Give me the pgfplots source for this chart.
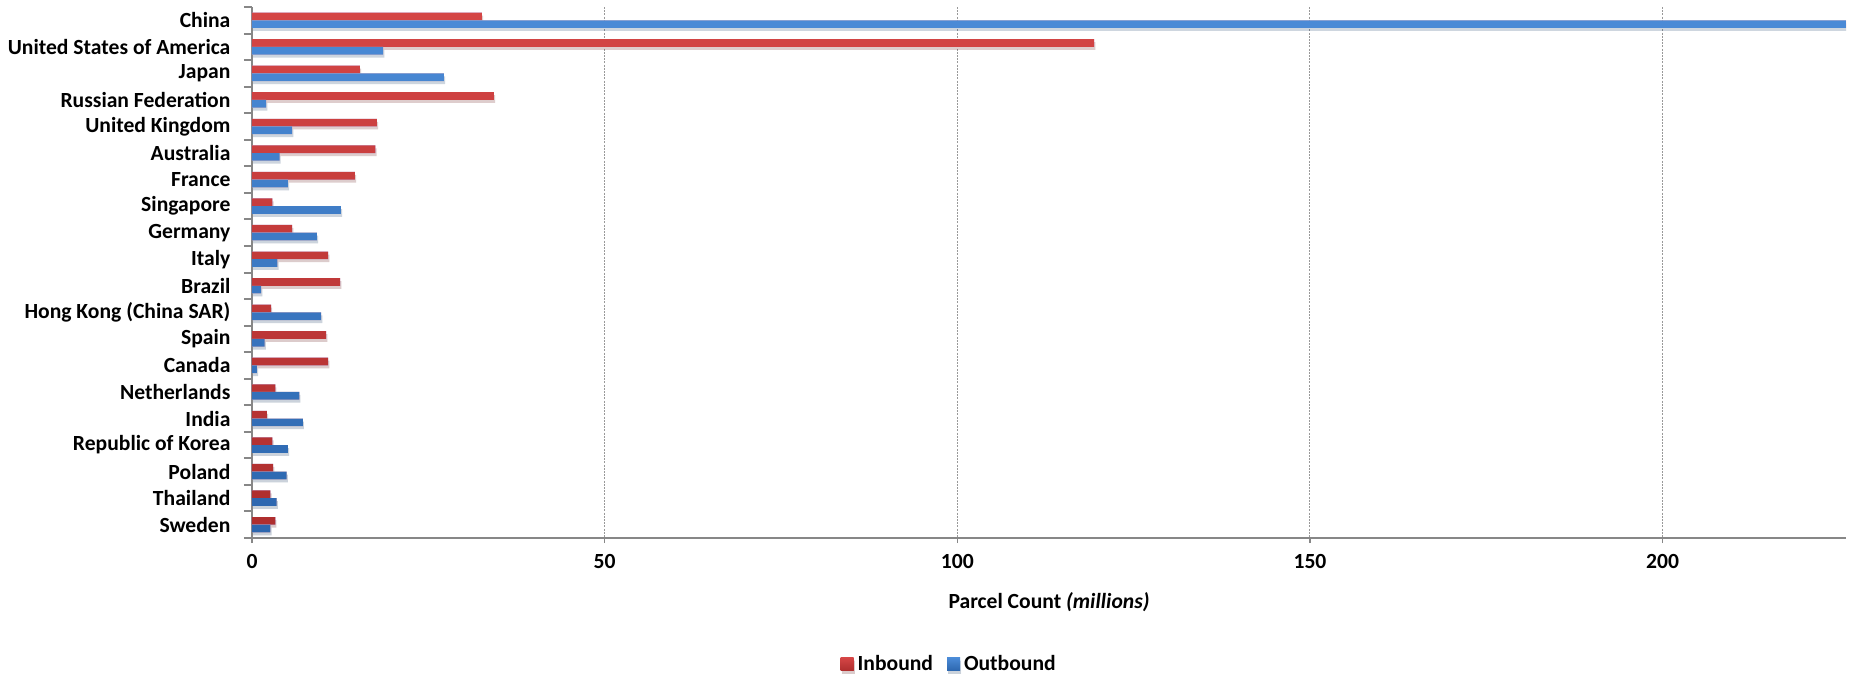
\documentclass[border=0pt]{standalone}
\usepackage{fontspec}
\setmainfont{Carlito}
\usepackage{pgfplots}
\pgfplotsset{compat=1.18}
\usetikzlibrary{shadows}

\definecolor{inTop}{HTML}{D44545}
\definecolor{inBot}{HTML}{AE2E2E}
\definecolor{outTop}{HTML}{4A8AD6}
\definecolor{outBot}{HTML}{2C66AE}
\definecolor{axgray}{HTML}{878787}

\begin{document}
\begin{tikzpicture}
\fontsize{10.8}{12}\selectfont
% whole picture: 1864 x 676 px at 0.5pt per px
\path[use as bounding box] (-126pt,-69pt) rectangle (806pt,269pt);

\tikzset{
    barshadow/.style={drop shadow={shadow xshift=0.6pt,shadow yshift=-1.5pt,opacity=0.12,fill=black}},
}

\begin{axis}[%
    ,at={(0,0)},anchor=south west
    ,scale only axis
    ,width=797pt,height=265.5pt
    ,xbar
    ,bar width=3.85pt
    ,y dir=reverse
    ,xmin=0,xmax=226
    ,ymin=-0.5,ymax=19.5
    ,enlargelimits=false
    ,axis x line*=bottom,axis y line*=left
    ,axis line style={axgray,line width=1pt}
    ,xtick={0,50,...,200}
    ,ytick={0,...,19}
    ,yticklabels={China,United States of America,Japan,Russian Federation,United Kingdom,Australia,France,Singapore,Germany,Italy,Brazil,Hong Kong (China SAR),Spain,Canada,Netherlands,India,Republic of Korea,Poland,Thailand,Sweden}
    ,minor ytick={-0.5,0.5,...,19.5}
    ,tick align=outside
    ,major tick length=2.5pt
    ,minor tick length=4pt
    ,ytick style={draw=none}
    ,minor y tick style={draw=axgray,line width=1pt}
    ,xtick style={draw=axgray,line width=0.8pt}
    ,xmajorgrids
    ,major x grid style={gray!80,line width=0.5pt,dash pattern=on 1pt off 0.6pt}
    ,/pgf/number format/assume math mode=true
    ,ticklabel style={font=\bfseries}
    ,yticklabel style={anchor=east,xshift=-4.5pt}
    ,xticklabel style={anchor=center,yshift=-9pt}
    ,xlabel={\bfseries Parcel Count \textit{(millions)}}
    ,xlabel style={at={(axis description cs:0.5,0)},anchor=center,yshift=-32pt}
    ,legend style={at={(axis description cs:0.438,-0.239)},anchor=center,draw=none,fill=none,
        legend columns=2,font=\bfseries,
        /tikz/every even column/.append style={column sep=5pt}}
    ]

% Inbound
\addplot+[draw=none,top color=inTop,bottom color=inBot,bar shift=1.925pt,barshadow,
    legend image code/.code={\fill[inTop!85!inBot] (0pt,-3pt) rectangle (6.5pt,3.5pt);}]
  coordinates {(32.6,0) (119.4,1) (15.3,2) (34.3,3) (17.7,4) (17.5,5) (14.6,6) (2.9,7) (5.7,8) (10.8,9)
               (12.5,10) (2.7,11) (10.5,12) (10.8,13) (3.3,14) (2.1,15) (2.9,16) (3.0,17) (2.6,18) (3.3,19)};
\addlegendentry{Inbound}

% Outbound
\addplot+[draw=none,top color=outTop,bottom color=outBot,bar shift=-1.925pt,barshadow,
    legend image code/.code={\fill[outTop!85!outBot] (0pt,-3pt) rectangle (6.5pt,3.5pt);}]
  coordinates {(226,0) (18.6,1) (27.2,2) (2.0,3) (5.7,4) (3.9,5) (5.1,6) (12.6,7) (9.2,8) (3.6,9)
               (1.3,10) (9.8,11) (1.8,12) (0.7,13) (6.7,14) (7.2,15) (5.1,16) (4.9,17) (3.5,18) (2.6,19)};
\addlegendentry{Outbound}

\end{axis}
\end{tikzpicture}
\end{document}
